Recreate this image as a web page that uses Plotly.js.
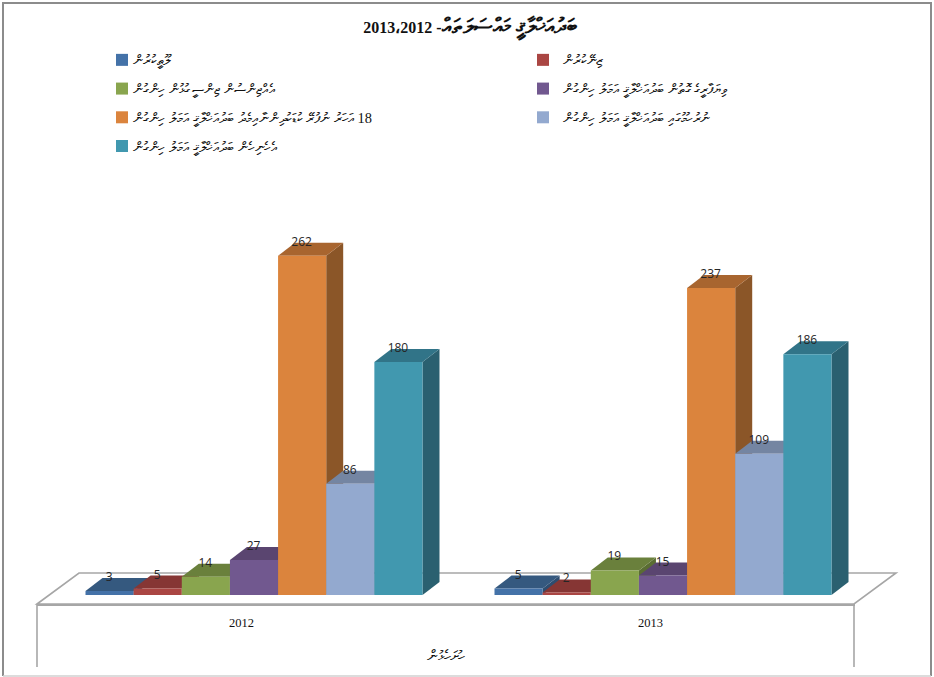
<!DOCTYPE html>
<html><head><meta charset="utf-8">
<script src="https://cdn.plot.ly/plotly-3.0.1.min.js"></script>
<style>html,body{margin:0;padding:0;background:#fff}#chart{width:934px;height:677px}</style>
</head><body><div id="chart"></div>
<script>
const RLM = '\u200F';
const titleWords = 'ބަދުއަޚްލާޤީ މައްސަލަތައް';
const titleYears = '- 2013،2012';
const axisTitle = 'ހުށަހެޅުން';
const years = ['2012', '2013'];
const seriesNames = [
  'ލޫޠީކުރުން',
  'ޒިނޭކުރުން',
  'އެއްޖިންސުން ޖިންސީ ގުޅުން ހިންގުން',
  'ވިޔަފާރީގެ ގޮތުން ބަދުއަޚްލާޤީ އަމަލު ހިންގުން',
  '18 އަހަރު ނުފުރޭ ކުޑަކުދިންނާއިމެދު ބަދުއަޚްލާޤީ އަމަލު ހިންގުން',
  'ނުރުހުމުގައި ބަދުއަޚްލާޤީ އަމަލު ހިންގުން',
  'އެހެނިހެން ބަދުއަޚްލާޤީ އަމަލު ހިންގުން'
];
const v1 = [3, 5];
const v2 = [5, 2];
const v3 = [14, 19];
const v4 = [27, 15];
const v5 = [262, 237];
const v6 = [86, 109];
const v7 = [180, 186];
const seriesValues = [v1, v2, v3, v4, v5, v6, v7];
const legendOf = ['legend', 'legend2', 'legend', 'legend2', 'legend', 'legend2', 'legend'];
const frontColors = ['#4472A8', '#AA4643', '#89A54E', '#71588F', '#DB843D', '#93A9CF', '#4198AF'];
const topColors   = ['#35597F', '#863634', '#6A803C', '#5A4570', '#A8652F', '#7485A2', '#317488'];
const sideColors  = ['#2E4D70', '#6F2D2B', '#5A6D33', '#4C3A60', '#8B5628', '#62718C', '#2A6070'];

// page geometry of the drawing
const W = 934, H = 677;
const plotL = 37, plotR = 855, plotT = 100, plotB = 604;
const zeroPx = 595, pxPerUnit = 1.295;
const catPx = (plotR - plotL) / 2;
const shiftCat = 12.5 / catPx;           // bars sit mid-way back on the floor
const bargap = 72 / catPx;
const depthX = 17 / catPx, depthY = 13 / pxPerUnit;
const barW = (1 - bargap) / seriesValues.length;
const yMin = -(plotB - zeroPx) / pxPerUnit, yMax = (zeroPx - plotT) / pxPerUnit;
const labelLift = 13 / pxPerUnit;
const xMin = -0.5 - shiftCat, xMax = 1.5 - shiftCat;
const dx = px => (px - plotL) / (plotR - plotL), dy = py => (plotB - py) / (plotB - plotT);

const cats = [0, 1];
const traces = [];
const shapes = [];
seriesValues.forEach((vals, k) => {
  traces.push({
    type: 'bar', name: RLM + seriesNames[k] + RLM, x: cats, y: vals, legend: legendOf[k], legendgroup: 's' + k,
    marker: { color: frontColors[k], line: { width: 0 } }, hoverinfo: 'x+y'
  });
});
// floor outline and the two front verticals
const grey = '#A6A6A6';
const domainShape = o => Object.assign({ xref: 'x domain', yref: 'y domain' }, o);
shapes.push(domainShape({
  type: 'path', layer: 'below', line: { width: 1.6, color: grey },
  path: `M${dx(37)},${dy(604)} L${dx(79)},${dy(573)} L${dx(896)},${dy(573)} L${dx(854)},${dy(604)} Z`
}));
shapes.push(domainShape({ type: 'line', x0: dx(37), x1: dx(37), y0: dy(604), y1: dy(667), line: { color: grey, width: 1.6 } }));
shapes.push(domainShape({ type: 'line', x0: dx(854), x1: dx(854), y0: dy(604), y1: dy(667), line: { color: grey, width: 1.6 } }));
cats.forEach(c => {
  seriesValues.forEach((vals, k) => {
    const x0 = c + (k - seriesValues.length / 2) * barW, x1 = x0 + barW, y = vals[c];
    shapes.push({
      type: 'path', xref: 'x', yref: 'y', layer: 'below', line: { width: 0 }, fillcolor: sideColors[k],
      path: `M${x1},0 L${x1 + depthX},${depthY} L${x1 + depthX},${y + depthY} L${x1},${y} Z`
    });
    shapes.push({
      type: 'path', xref: 'x', yref: 'y', layer: 'below', line: { width: 0 }, fillcolor: topColors[k],
      path: `M${x0},${y} L${x1},${y} L${x1 + depthX},${y + depthY} L${x0 + depthX},${y + depthY} Z`
    });
  });
});
seriesValues.forEach((vals, k) => {
  traces.push({
    type: 'scatter', mode: 'text', showlegend: false, hoverinfo: 'skip', cliponaxis: false,
    x: cats.map(c => c + (k + 0.5 - seriesValues.length / 2) * barW - 0.5 / catPx),
    y: vals.map(v => v + labelLift),
    text: vals.map(String), textposition: 'middle center',
    textfont: { family: 'Open Sans, Liberation Sans, sans-serif', size: 12, color: '#262626' }
  });
});
// outer frame of the picture
shapes.push(domainShape({ type: 'path', path: `M${dx(3)},${dy(676)} L${dx(3)},${dy(3)} L${dx(931)},${dy(3)} L${dx(931)},${dy(676)}`, line: { color: '#8C8C8C', width: 2 } }));
shapes.push(domainShape({ type: 'line', x0: dx(3), x1: dx(931), y0: dy(676), y1: dy(676), line: { color: '#D0D0D0', width: 1.5 } }));

const legendFont = { family: 'Liberation Serif, serif', size: 14.4, color: '#111' };
const legendBase = { orientation: 'v', xref: 'paper', yref: 'paper', xanchor: 'left', yanchor: 'top', y: dy(44),
  traceorder: 'grouped', tracegroupgap: 7, font: legendFont, bgcolor: 'rgba(0,0,0,0)' };
const layout = {
  width: W, height: H, autosize: false,
  paper_bgcolor: '#fff', plot_bgcolor: 'rgba(0,0,0,0)',
  margin: { l: plotL, r: W - plotR, t: plotT, b: H - plotB, pad: 0, autoexpand: false },
  barmode: 'group', bargap: bargap, bargroupgap: 0,
  title: {
    text: RLM + '<span style="font-size:21px">' + titleWords + '</span>' + titleYears + RLM,
    xref: 'paper', yref: 'container', x: dx(470), xanchor: 'center', y: 1 - 27 / H, yanchor: 'middle',
    font: { family: 'Liberation Serif, serif', size: 16, color: '#111', weight: 'bold' }
  },
  xaxis: {
    type: 'linear', range: [xMin, xMax], tickmode: 'array', tickvals: cats.map(c => c - shiftCat), ticktext: years,
    showgrid: false, zeroline: false, showline: true, linecolor: grey, linewidth: 1.6, ticks: '',
    ticklabelstandoff: 6,
    tickfont: { family: 'Liberation Serif, serif', size: 12.5, color: '#111' },
    title: { text: RLM + axisTitle + RLM, standoff: 22, font: { family: 'Liberation Serif, serif', size: 15, color: '#111' } }
  },
  yaxis: { range: [yMin, yMax], visible: false, showgrid: false, zeroline: false },
  legend: Object.assign({}, legendBase, { x: dx(102) }),
  legend2: Object.assign({}, legendBase, { x: dx(523) }),
  shapes: shapes,
  showlegend: true
};
Plotly.newPlot('chart', traces, layout, { displayModeBar: false }).then(() => {
  // the reference keeps legend text closer to its swatch than the legend's minimum item width allows
  document.querySelectorAll('.legendtext').forEach(t => t.setAttribute('transform', 'translate(-9,0)'));
});
</script></body></html>
